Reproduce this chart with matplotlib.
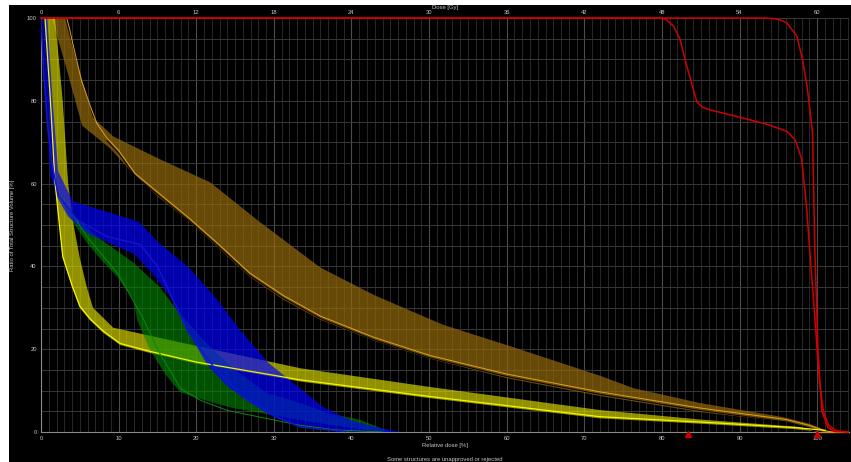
import numpy as np
import matplotlib
matplotlib.use("Agg")
import matplotlib.pyplot as plt
from matplotlib.ticker import MultipleLocator, NullLocator
from matplotlib.patches import Rectangle

plt.rcParams["font.family"] = ["Liberation Sans", "DejaVu Sans"]

# ---------------- data (relative dose [%], volume [%]) ----------------
brown_upper_x = [3.1, 4.5, 6.7, 9.3, 15.3, 21.8, 28, 36, 43, 51.8, 60, 72, 76.3, 84.9, 95.6, 99, 101.3, 102]
brown_upper_y = [100, 90, 76, 71.4, 65.9, 60.3, 51, 39.7, 33, 25.9, 21, 13.6, 10.6, 7.0, 3.6, 2.0, 0.3, 0]
brown_lower_x = [1.4, 3.4, 5.3, 8.9, 12.1, 15.3, 19, 22.8, 26.9, 31.2, 36, 43, 50.1, 60, 72, 84.9, 96.1, 99.1, 101]
brown_lower_y = [100, 87, 74, 68.5, 62, 56.5, 51, 44.6, 37.5, 32, 27.1, 22, 17.7, 13, 8.7, 4.8, 2.4, 1.0, 0]
brown_line_x = [3.3, 3.6, 4.2, 5.2, 6.3, 7.2, 8.5, 10, 12.1, 15.3, 19, 22.8, 26.9, 31.2, 36, 43, 50.1, 60, 72, 84.9, 96.1, 99, 101, 102]
brown_line_y = [100, 98, 93, 85, 79, 74.5, 71, 68, 62.5, 57.5, 51.8, 45.5, 38.4, 33, 28, 22.8, 18.5, 14, 9.7, 5.8, 3.0, 1.6, 0.3, 0]

yellow_upper_x = [1.8, 2.8, 3.5, 4.2, 5.0, 5.9, 6.7, 9.3, 20, 33.4, 50, 72, 85, 97.8, 100]
yellow_upper_y = [100, 80, 60, 50, 42, 35, 30, 25.2, 20.8, 15.4, 10.9, 5.3, 3.0, 1.2, 0]
yellow_lower_x = [0.5, 1.2, 1.8, 2.8, 4.0, 5.0, 6.3, 8.0, 10.2, 14, 20, 33.4, 50, 72, 85, 97, 101]
yellow_lower_y = [100, 80, 60, 42, 35, 30, 27, 24, 21, 19.1, 16.5, 12.2, 8.2, 3.3, 2.0, 0.7, 0]

blue_upper_x = [0.8, 1.5, 2.2, 4.1, 8, 12.6, 15, 18.9, 22.7, 25.6, 29.3, 33.4, 36.3, 39.8, 42.4, 46.3]
blue_upper_y = [100, 80, 63, 55.7, 53.5, 50.8, 46, 40, 32, 24.7, 16.7, 10.5, 6.1, 2.9, 1.5, 0]
blue_lower_x = [0.2, 0.6, 1.2, 2.0, 3.5, 6, 9, 12, 14.5, 16.5, 19, 21.5, 24, 27, 30, 34, 40]
blue_lower_y = [100, 80, 62, 57, 52, 48, 45.5, 43, 38, 33, 24, 16, 11, 7, 3.5, 1.2, 0]
blue_line_x = [0.0, 0.4, 0.9, 1.5, 2.2, 4.6, 8.5, 12.8, 15, 17, 19, 22.2, 26, 30.4, 33.4, 39.8]
blue_line_y = [100, 85, 73, 64, 57.4, 51.3, 47.2, 45.3, 40, 32, 24, 15.8, 8.5, 3.6, 1.2, 0]

green_upper_x = [2.4, 4.5, 7.2, 11.9, 15.3, 17.5, 21, 25, 29, 33.4, 37, 41, 44, 45]
green_upper_y = [57, 52, 47.2, 40.9, 35, 29.5, 22, 15, 9.5, 7.0, 4.5, 3.0, 0.8, 0]
green_lower_x = [2.4, 4.0, 5.9, 7.8, 9.8, 11.9, 12.4, 14, 16, 17.9, 20.1, 24.7, 33.4, 38, 44]
green_lower_y = [57, 51, 45.8, 41.5, 37.5, 32, 27, 20, 14, 9.7, 8.2, 5.8, 2.9, 1.5, 0]
green_line_x = [2.5, 6, 10, 13, 15.3, 18, 20.5, 24, 26.9, 33.4, 38, 44]
green_line_y = [57, 47, 38, 28, 19, 10.5, 7.7, 5.2, 4.1, 1.6, 0.5, 0]

red1_x = [0, 79.5, 80.5, 81.5, 82.3, 83.2, 84.5, 85.2, 86.2, 90.1, 93.6, 96.1, 97.2, 98.0, 98.6, 99.2, 99.8, 100.3, 100.8, 101.5, 102.5, 104]
red1_y = [100, 100, 99.7, 98, 95, 88.4, 79.7, 78.5, 77.8, 76, 74.3, 72.6, 70.5, 66, 55, 40, 25, 12, 5, 1.5, 0.3, 0]
red2_x = [0, 93.5, 95.0, 96.1, 97.4, 98.1, 98.7, 99.4, 99.7, 100.1, 100.6, 101.4, 102.3, 104]
red2_y = [100, 100, 99.7, 98.8, 95.6, 90, 83.5, 72.4, 44, 20, 5, 1, 0.1, 0]

marker_doses = [83.4, 100]

x_ticks = list(range(0, 101, 10))
y_ticks = list(range(0, 101, 20))
dose_ticks = list(range(0, 61, 6))
prescription_gy = 60.0

# ---------------- figure ----------------
W, H = 851, 462
FS = 4.2
fig = plt.figure(figsize=(W / 100, H / 100), dpi=100)
fig.patch.set_facecolor("white")
fig.patches.append(Rectangle((9 / W, 0), 1 - 9 / W, 1 - 5 / H, transform=fig.transFigure,
                             facecolor="black", edgecolor="none", zorder=-10))
ax = fig.add_axes([41 / W, 1 - 432 / H, (849 - 41) / W, (432 - 18) / H])
ax.set_facecolor("black")
ax.set_xlim(0, 104.1)
ax.set_ylim(0, 100)

txt = "#c8c8c8"
ax.xaxis.set_major_locator(MultipleLocator(10))
ax.xaxis.set_minor_locator(MultipleLocator(1))
ax.yaxis.set_major_locator(MultipleLocator(20))
ax.yaxis.set_minor_locator(MultipleLocator(5))
ax.set_xticks(x_ticks)
ax.set_yticks(y_ticks)
ax.grid(which="major", axis="x", color="#4c4c4c", lw=0.8)
ax.grid(which="minor", axis="x", color="#292929", lw=0.7)
ax.grid(which="both", axis="y", color="#383838", lw=0.7)
ax.set_axisbelow(True)
ax.tick_params(which="both", length=0, labelsize=FS, colors=txt)
ax.tick_params(axis="x", pad=3.0)
ax.tick_params(axis="y", pad=3)
for s in ["top", "right"]:
    ax.spines[s].set_visible(False)
for s in ["left", "bottom"]:
    ax.spines[s].set_color("#8a8a8a")
    ax.spines[s].set_linewidth(0.8)

sec = ax.secondary_xaxis("top", functions=(lambda x: x * prescription_gy / 100,
                                            lambda d: d * 100 / prescription_gy))
sec.set_xticks(dose_ticks)
sec.xaxis.set_minor_locator(NullLocator())
sec.tick_params(length=0, labelsize=FS, colors=txt, pad=2.0)
sec.spines["top"].set_visible(False)


def band(ux, uy, lx, ly, color, alpha, z):
    xs = np.concatenate([ux, lx[::-1]])
    ys = np.concatenate([uy, ly[::-1]])
    ax.fill(xs, ys, facecolor=color, edgecolor="none", alpha=alpha, zorder=z)


band(brown_upper_x, brown_upper_y, brown_lower_x, brown_lower_y, "#94690c", 0.7, 2)
band(yellow_upper_x, yellow_upper_y, yellow_lower_x, yellow_lower_y, "#dede00", 0.66, 3)
band(green_upper_x, green_upper_y, green_lower_x, green_lower_y, "#008a00", 0.6, 4)
band(blue_upper_x, blue_upper_y, blue_lower_x, blue_lower_y, "#0000ff", 0.68, 5)

ax.plot(brown_line_x[6:], np.array(brown_line_y[6:]) - 0.6, color="black", lw=0.7, zorder=6)
ax.plot(brown_line_x, brown_line_y, color="#e0a020", lw=0.7, zorder=6)
ax.plot(yellow_lower_x, np.array(yellow_lower_y) + 0.4, color="#f4f400", lw=0.9, zorder=6)
ax.plot(green_line_x, green_line_y, color="#0a8a0a", lw=0.7, zorder=6)
ax.plot(blue_line_x, blue_line_y, color="#1414c8", lw=1.1, zorder=7)
ax.plot([100.5, 104.1], [0, 0], color="#d8900c", lw=0.9, zorder=6, clip_on=False)
ax.plot(red1_x, red1_y, color="#d00000", lw=1.1, zorder=8, clip_on=False)
ax.plot(red2_x, red2_y, color="#d00000", lw=1.1, zorder=8, clip_on=False)
ax.plot(marker_doses, [-0.55] * len(marker_doses), linestyle="none", marker="^",
        markersize=4.3, color="#d00000", zorder=10, clip_on=False)

fig.text(445 / W, 1 - 7 / H, "Dose [Gy]", ha="center", va="center", fontsize=FS, color=txt)
fig.text(445 / W, 1 - 445.5 / H, "Relative dose [%]", ha="center", va="center", fontsize=FS, color=txt)
fig.text(445 / W, 1 - 459.5 / H, "Some structures are unapproved or rejected", ha="center",
         va="center", fontsize=FS, color=txt)
fig.text(13 / W, 1 - 225 / H, "Ratio of Total Structure Volume [%]", rotation=90,
         ha="center", va="center", fontsize=FS, color=txt)

fig.savefig("out.png", dpi=100, facecolor=fig.get_facecolor())
